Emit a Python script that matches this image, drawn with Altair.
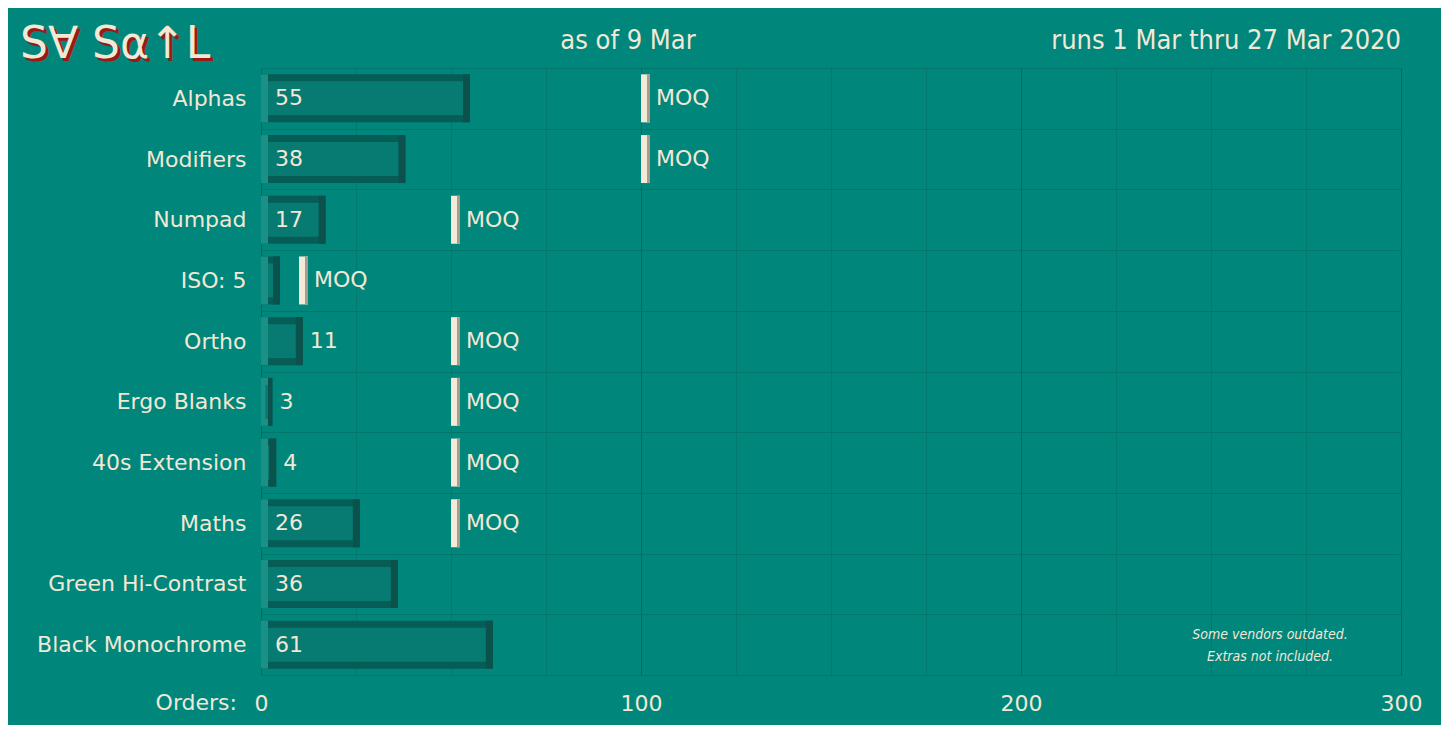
import altair as alt
import pandas as pd

categories = ["Alphas", "Modifiers", "Numpad", "ISO: 5", "Ortho", "Ergo Blanks",
              "40s Extension", "Maths", "Green Hi-Contrast", "Black Monochrome"]
orders = [55, 38, 17, 5, 11, 3, 4, 26, 36, 61]
moq = [100, 100, 50, 10, 50, 50, 50, 50, None, None]
value_labels = ["55", "38", "17", None, "11", "3", "4", "26", "36", "61"]
x_ticks = [0, 25, 50, 75, 100, 125, 150, 175, 200, 225, 250, 275, 300]

BG = "#00867b"
CREAM = "#f1e8d6"
FONT = "DejaVu Sans"
FS = 22
NARROW = "DejaVu Sans Condensed, DejaVu Sans"
W, H = 1140, 607

df = pd.DataFrame({"cat": categories, "orders": orders, "moq": moq, "lab": value_labels})

base = alt.Chart(df).transform_calculate(zero="0")

yenc = alt.Y("cat:N", sort=categories, title=None,
             scale=alt.Scale(paddingInner=0, paddingOuter=0),
             axis=alt.Axis(labelFont=FONT, labelFontSize=FS, labelColor=CREAM,
                           labelPadding=15, labelLimit=400, ticks=False, domain=False,
                           grid=True, tickBand="extent", gridColor="#03766c", gridWidth=1))
xscale = alt.Scale(domain=[0, 300], nice=False)
xaxis = alt.Axis(values=x_ticks, labelExpr="datum.value % 100 === 0 ? datum.label : ''",
                 labelFont=FONT, labelFontSize=FS, labelColor=CREAM, labelPadding=18,
                 labelFlush=False, labelOverlap=False,
                 ticks=False, domain=False, grid=True,
                 gridColor={"condition": {"test": "datum.value % 100 === 0", "value": "#036a61"},
                            "value": "#03786e"},
                 title=None)

Y = alt.Y("cat:N", sort=categories)
outer = base.mark_bar(size=48, color="#055d56").encode(
    x=alt.X("zero:Q", scale=xscale, axis=xaxis), x2="orders:Q", y=yenc)
right = base.mark_bar(size=48, color="#0b524c", xOffset=-7).encode(
    x="orders:Q", x2="orders:Q", y=Y)
left = base.mark_bar(size=48, color="#1a9086", x2Offset=7).encode(
    x="zero:Q", x2="zero:Q", y=Y)
face = base.mark_bar(size=34, color="#077a71", xOffset=7, x2Offset=-7).encode(
    x="zero:Q", x2="orders:Q", y=Y)

moq_base = base.transform_filter("isValid(datum.moq)")
moq_bar = moq_base.mark_bar(size=48, color="#f3ead8", x2Offset=9).encode(
    x="moq:Q", x2="moq:Q", y=Y)
moq_shade = moq_base.mark_bar(size=48, color="#a59d8f", xOffset=6, x2Offset=9).encode(
    x="moq:Q", x2="moq:Q", y=Y)
moq_text = moq_base.mark_text(align="left", baseline="middle", dx=15, font=FONT,
                              fontSize=FS, color=CREAM, text="MOQ").encode(
    x="moq:Q", y=Y)

lab_in = base.transform_filter("isValid(datum.lab) && datum.orders >= 15").mark_text(
    align="left", baseline="middle", dx=14, font=FONT, fontSize=FS, color=CREAM).encode(
    x="zero:Q", y=Y, text="lab:N")
lab_out = base.transform_filter("isValid(datum.lab) && datum.orders < 15").mark_text(
    align="left", baseline="middle", dx=7, font=FONT, fontSize=FS, color=CREAM).encode(
    x="orders:Q", y=Y, text="lab:N")


def note(text, x, y, **kw):
    return alt.Chart(pd.DataFrame({"t": [text]})).mark_text(**kw).encode(
        x=alt.value(x), y=alt.value(y), text="t:N")


LOGO = "S\u2200 S\u03b1\u2191L"
logo_shadow = note(LOGO, -238, -7, align="left", baseline="alphabetic",
                   font="DejaVu Sans", fontSize=44, color="#9a1a16")
logo = note(LOGO, -241, -10, align="left", baseline="alphabetic",
            font="DejaVu Sans", fontSize=44, color=CREAM)
title1 = note("as of 9 Mar", 367, -27, align="center", baseline="middle",
              font=NARROW, fontSize=27, color=CREAM)
title2 = note("runs 1 Mar thru 27 Mar 2020", W, -27, align="right", baseline="middle",
              font=NARROW, fontSize=27, color=CREAM)
footnote = note("Some vendors outdated.\nExtras not included.", 1009, 567, align="center",
                baseline="middle", font=NARROW, fontSize=14, fontStyle="italic",
                color=CREAM, lineBreak="\n", lineHeight=22)
orders_lbl = note("Orders:", -24, 635, align="right", baseline="middle",
                  font=FONT, fontSize=FS, color=CREAM)

chart = alt.layer(outer, right, left, face, moq_bar, moq_shade, moq_text, lab_in, lab_out,
                  logo_shadow, logo, title1, title2, footnote, orders_lbl).properties(
    width=W, height=H,
    autosize=alt.AutoSizeParams(type="none"),
    padding={"left": 253, "top": 60, "right": 40, "bottom": 50},
    background=BG,
).configure_view(stroke="#036a61", strokeWidth=1)

chart.save("out.html", embed_options={"renderer": "svg", "actions": False})
